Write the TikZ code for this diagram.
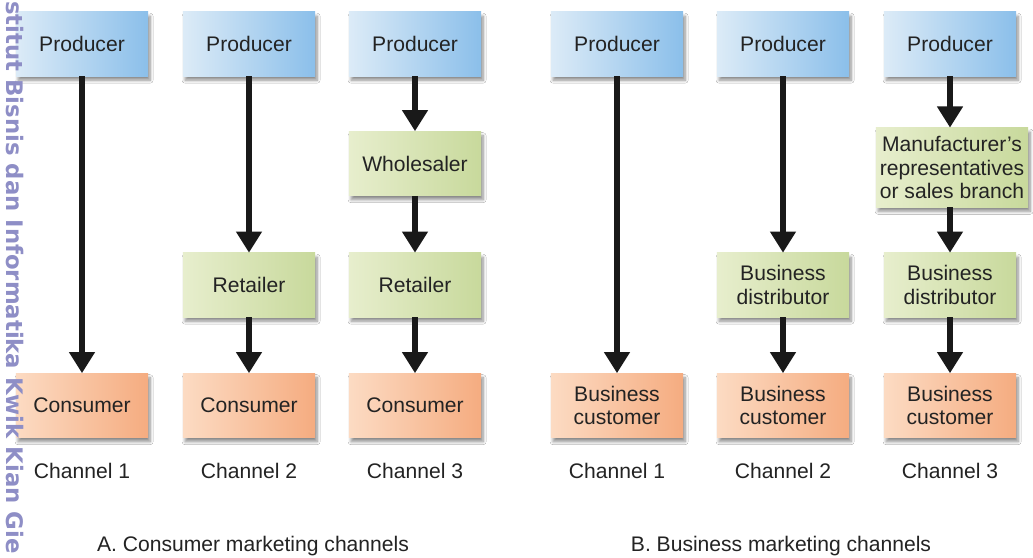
\documentclass[tikz,border=0pt]{standalone}
\usepackage{fontspec}
\setmainfont{Liberation Sans}
\newfontfamily\markfont{DejaVu Sans}
\usepackage{tikz}
\usetikzlibrary{arrows.meta,positioning,shadows.blur}
\definecolor{ProducerLight}{HTML}{DCEBF7}
\definecolor{ProducerDark}{HTML}{8BBFEA}
\definecolor{MiddleLight}{HTML}{E7EECD}
\definecolor{MiddleDark}{HTML}{C8D99C}
\definecolor{BuyerLight}{HTML}{FCDBC3}
\definecolor{BuyerDark}{HTML}{F5AC80}
\definecolor{TextDark}{HTML}{232323}
\definecolor{MarkLilac}{HTML}{8E8EC6}
\tikzset{
    chanbox/.style={
        minimum width=3.3cm,
        minimum height=1.6cm,
        inner sep=0pt,
        align=center,
        text=TextDark,
        font=\fontsize{15}{16.8}\selectfont,
        blur shadow={shadow xshift=1.5pt, shadow yshift=-3pt, shadow blur steps=8, shadow opacity=45}
    },
    producer/.style={chanbox, left color=ProducerLight, right color=ProducerDark},
    middleman/.style={chanbox, left color=MiddleLight, right color=MiddleDark},
    buyer/.style={chanbox, left color=BuyerLight, right color=BuyerDark},
    flow/.style={black!90, line width=4pt, -{Triangle[width=0.62cm,length=0.53cm]}},
    chanlabel/.style={text=TextDark, font=\fontsize{15}{16.8}\selectfont}
}

\begin{document}
\begin{tikzpicture}[x=0.025cm, y=-0.025cm]
        \useasboundingbox (0,0) rectangle (1033,558);
        \fill[white] (0,0) rectangle (1033,558);

        % A. consumer channels
        \node[producer] (pa1) at (82,44) {Producer};
        \node[producer] (pa2) at (249,44) {Producer};
        \node[producer] (pa3) at (415,44) {Producer};
        \node[middleman] (wa3) at (415,163.5) {Wholesaler};
        \node[middleman] (ra2) at (249,285) {Retailer};
        \node[middleman] (ra3) at (415,285) {Retailer};
        \node[buyer] (ca1) at (82,405.5) {Consumer};
        \node[buyer] (ca2) at (249,405.5) {Consumer};
        \node[buyer] (ca3) at (415,405.5) {Consumer};

        % B. business channels
        \node[producer] (pb1) at (617,44) {Producer};
        \node[producer] (pb2) at (783,44) {Producer};
        \node[producer] (pb3) at (950,44) {Producer};
        \node[middleman, minimum width=3.8cm, minimum height=1.98cm] (mb3) at (952,167.5) {Manufacturer's\\representatives\\or sales branch};
        \node[middleman] (db2) at (783,285) {Business\\distributor};
        \node[middleman] (db3) at (950,285) {Business\\distributor};
        \node[buyer] (cb1) at (617,405.5) {Business\\customer};
        \node[buyer] (cb2) at (783,405.5) {Business\\customer};
        \node[buyer] (cb3) at (950,405.5) {Business\\customer};

        \draw[flow] (pa1) -- (ca1);
        \draw[flow] (pa2) -- (ra2);
        \draw[flow] (ra2) -- (ca2);
        \draw[flow] (pa3) -- (wa3);
        \draw[flow] (wa3) -- (ra3);
        \draw[flow] (ra3) -- (ca3);

        \draw[flow] (pb1) -- (cb1);
        \draw[flow] (pb2) -- (db2);
        \draw[flow] (db2) -- (cb2);
        \draw[flow] (pb3.south) -- (pb3.south |- mb3.north);
        \draw[flow] (mb3.south -| db3.north) -- (db3);
        \draw[flow] (db3) -- (cb3);

        \node[chanlabel, below=0.5cm of ca1] (la1) {Channel 1};
        \node[chanlabel, below=0.5cm of ca2] (la2) {Channel 2};
        \node[chanlabel, below=0.5cm of ca3] (la3) {Channel 3};
        \node[chanlabel, below=0.5cm of cb1] (lb1) {Channel 1};
        \node[chanlabel, below=0.5cm of cb2] (lb2) {Channel 2};
        \node[chanlabel, below=0.5cm of cb3] (lb3) {Channel 3};

        \node[chanlabel] (ta) at (253,546) {A. Consumer marketing channels};
        \node[chanlabel] (tb) at (781,546) {B. Business marketing channels};

        % side watermark
        \node[rotate=-90, anchor=base west, inner sep=0pt, text=MarkLilac,
              font=\markfont\bfseries\fontsize{16.2}{18}\selectfont] (mark) at (6,1)
              {stitut Bisnis dan Informatika Kwik Kian Gie};
    \end{tikzpicture}
\end{document}
